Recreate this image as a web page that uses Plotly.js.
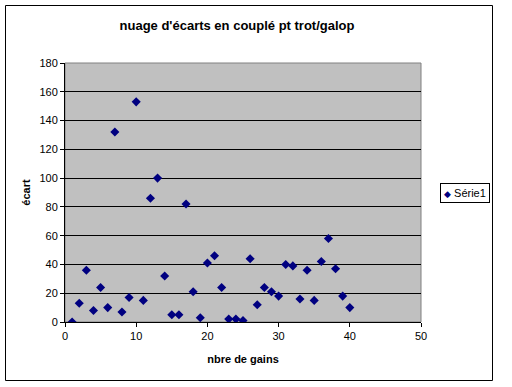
<!DOCTYPE html>
<html>
<head>
<meta charset="utf-8">
<script src="https://cdn.plot.ly/plotly-3.0.1.min.js"></script>
<style>
html,body{margin:0;padding:0;background:#fff;}
#chart{width:512px;height:387px;}
</style>
</head>
<body>
<div id="chart"></div>
<script>
const nbreDeGains = [1,2,3,4,5,6,7,8,9,10,11,12,13,14,15,16,17,18,19,20,21,22,23,24,25,26,27,28,29,30,31,32,33,34,35,36,37,38,39,40];
const ecart = [0,13,36,8,24,10,132,7,17,153,15,86,100,32,5,5,82,21,3,41,46,24,2,2,1,44,12,24,21,18,40,39,16,36,15,42,58,37,18,10];
const seriesName = 'Série1';
const xTicks = [0,10,20,30,40,50];
const yTicks = [0,20,40,60,80,100,120,140,160,180];

const W = 512, H = 387;
const L = 65, R = 421, T = 63, B = 322;
const pw = R - L, ph = B - T;
const px = v => (v - L) / pw;
const py = v => (B - v) / ph;

const FF = 'Liberation Sans, Arial, sans-serif';
const font = {family: FF, size: 11, color: '#000'};
const markerColor = '#000080';

const trace = {
  x: nbreDeGains,
  y: ecart,
  type: 'scatter',
  mode: 'markers',
  name: seriesName,
  showlegend: false,
  marker: {symbol: 'diamond', size: 7, color: markerColor, line: {width: 0}}
};

const layout = {
  width: W, height: H,
  margin: {l: L, r: W - R, t: T, b: H - B, pad: 0, autoexpand: false},
  paper_bgcolor: '#ffffff',
  plot_bgcolor: '#c0c0c0',
  font: font,
  showlegend: false,
  title: {
    text: "nuage d'écarts en couplé pt trot/galop",
    font: {family: FF, size: 13, weight: 'bold', color: '#000'},
    x: 237 / W, xanchor: 'center', xref: 'container',
    y: 1 - 25 / H, yanchor: 'middle', yref: 'container'
  },
  xaxis: {
    range: [0, 50],
    tickvals: xTicks,
    ticktext: xTicks.map(String),
    ticks: 'outside', ticklen: 4, tickcolor: '#000', tickwidth: 1,
    showline: true, linecolor: '#000', linewidth: 1,
    showgrid: false, zeroline: false,
    tickfont: font,
    title: {text: 'nbre de gains', font: {family: FF, size: 11, weight: 'bold', color: '#000'}, standoff: 14}
  },
  yaxis: {
    range: [0, 180],
    tickvals: yTicks,
    ticktext: yTicks.map(String),
    ticks: 'outside', ticklen: 4, tickcolor: '#000', tickwidth: 1,
    showline: true, linecolor: '#000', linewidth: 1,
    showgrid: true, gridcolor: '#000', gridwidth: 1,
    zeroline: false,
    tickfont: font,
    title: {text: 'écart', font: {family: FF, size: 11, weight: 'bold', color: '#000'}, standoff: 6}
  },
  annotations: [
    {xref: 'paper', yref: 'paper', x: px(465), y: py(193),
     xanchor: 'center', yanchor: 'middle', showarrow: false,
     text: '<span style="color:' + markerColor + ';font-size:9px">◆</span> ' + seriesName,
     font: font, bgcolor: '#ffffff', bordercolor: '#000', borderwidth: 1, borderpad: 3}
  ],
  shapes: [
    {type: 'rect', xref: 'paper', yref: 'paper', x0: 0, x1: 1, y0: 0, y1: 1,
     line: {color: '#808080', width: 1}, layer: 'below'},
    {type: 'rect', xref: 'paper', yref: 'paper',
     x0: px(5.5), x1: px(492.5), y0: py(380.5), y1: py(5.5),
     line: {color: '#000', width: 1}, fillcolor: 'rgba(0,0,0,0)', layer: 'above'}
  ]
};

Plotly.newPlot('chart', [trace], layout, {displayModeBar: false, staticPlot: true});
</script>
</body>
</html>
